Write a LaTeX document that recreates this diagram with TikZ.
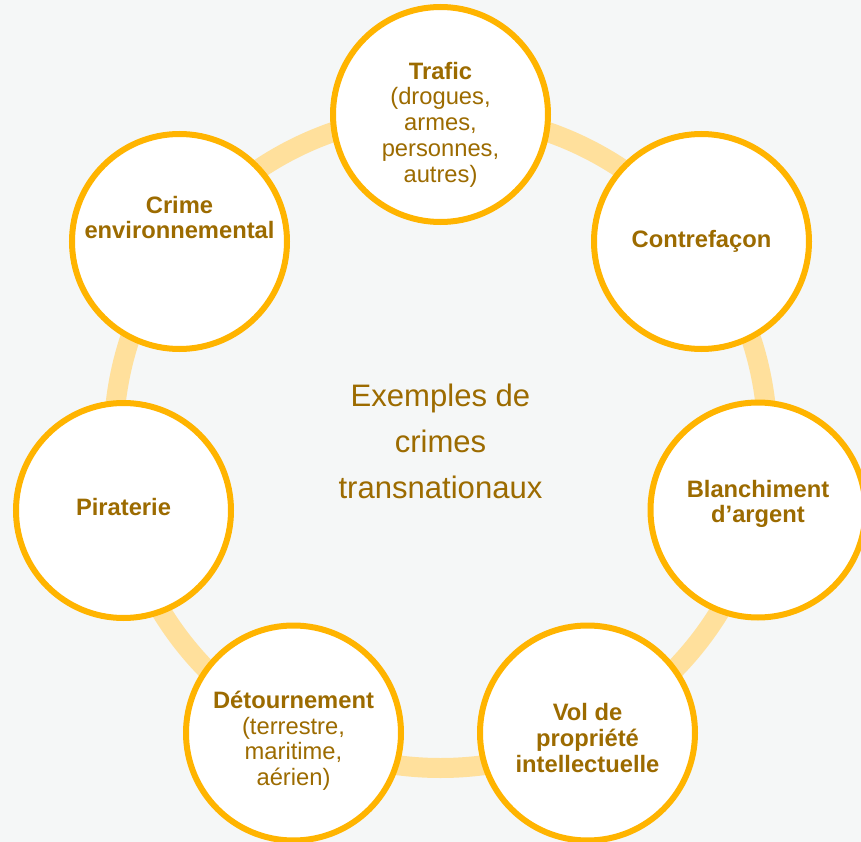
\documentclass[tikz,border=0pt]{standalone}
\usepackage{fontspec}
\setmainfont{Liberation Sans}

\definecolor{fond}{HTML}{F5F7F7}
\definecolor{anneau}{HTML}{FFE09C}
\definecolor{bord}{HTML}{FFB400}
\definecolor{brun}{HTML}{9C6B00}

\tikzset{
  crime/.style={circle, draw=bord, line width=4.5pt, fill=white,
    minimum size=161.25pt, inner sep=0pt, align=center, text=brun,
    font=\fontsize{17.8}{19.3}\selectfont},
  titre/.style={align=center, text=brun,
    font=\fontsize{23.3}{34.5}\selectfont}
}

\begin{document}
\begin{tikzpicture}[x=0.75pt, y=0.75pt]
        \useasboundingbox (0,0) rectangle (861,-842);
        \clip (0,0) rectangle (861,-842);
        \fill[fond] (0,0) rectangle (861,-842);
        \coordinate (ctr) at (440.5,-441);
        \draw[anneau, line width=15pt] (ctr) circle (245.25pt);
        \node[titre] (exemples) at (ctr) {Exemples de\\crimes\\transnationaux};
        \node[crime] (trafic) at (440.5,-114.5) {};
        \node[crime] (contre) at (701.5,-241.5) {\textbf{Contrefaçon}};
        \node[crime] (blanch) at (758,-510) {};
        \node[crime] (vol) at (587.5,-733) {};
        \node[crime] (detour) at (293.5,-733) {};
        \node[crime] (pirat) at (123.5,-510.5) {};
        \node[crime] (envir) at (179.5,-241.5) {};
        \node[crime, draw=none, fill=none] at ([yshift=-7.5pt]trafic.center) {\textbf{Trafic}\\(drogues,\\armes,\\personnes,\\autres)};
        \node[crime, draw=none, fill=none] at ([yshift=4.5pt]blanch.center) {\textbf{Blanchiment}\\\textbf{d’argent}};
        \node[crime, draw=none, fill=none] at ([yshift=-3.75pt]vol.center) {\textbf{Vol de}\\\textbf{propriété}\\\textbf{intellectuelle}};
        \node[crime, draw=none, fill=none] at ([yshift=-5.75pt]detour.center) {\textbf{Détournement}\\(terrestre,\\maritime,\\aérien)};
        \node[crime, draw=none, fill=none] at ([yshift=2.25pt]pirat.center) {\textbf{Piraterie}};
        \node[crime, draw=none, fill=none] at ([yshift=18pt]envir.center) {\textbf{Crime}\\\textbf{environnemental}};
    \end{tikzpicture}
\end{document}
